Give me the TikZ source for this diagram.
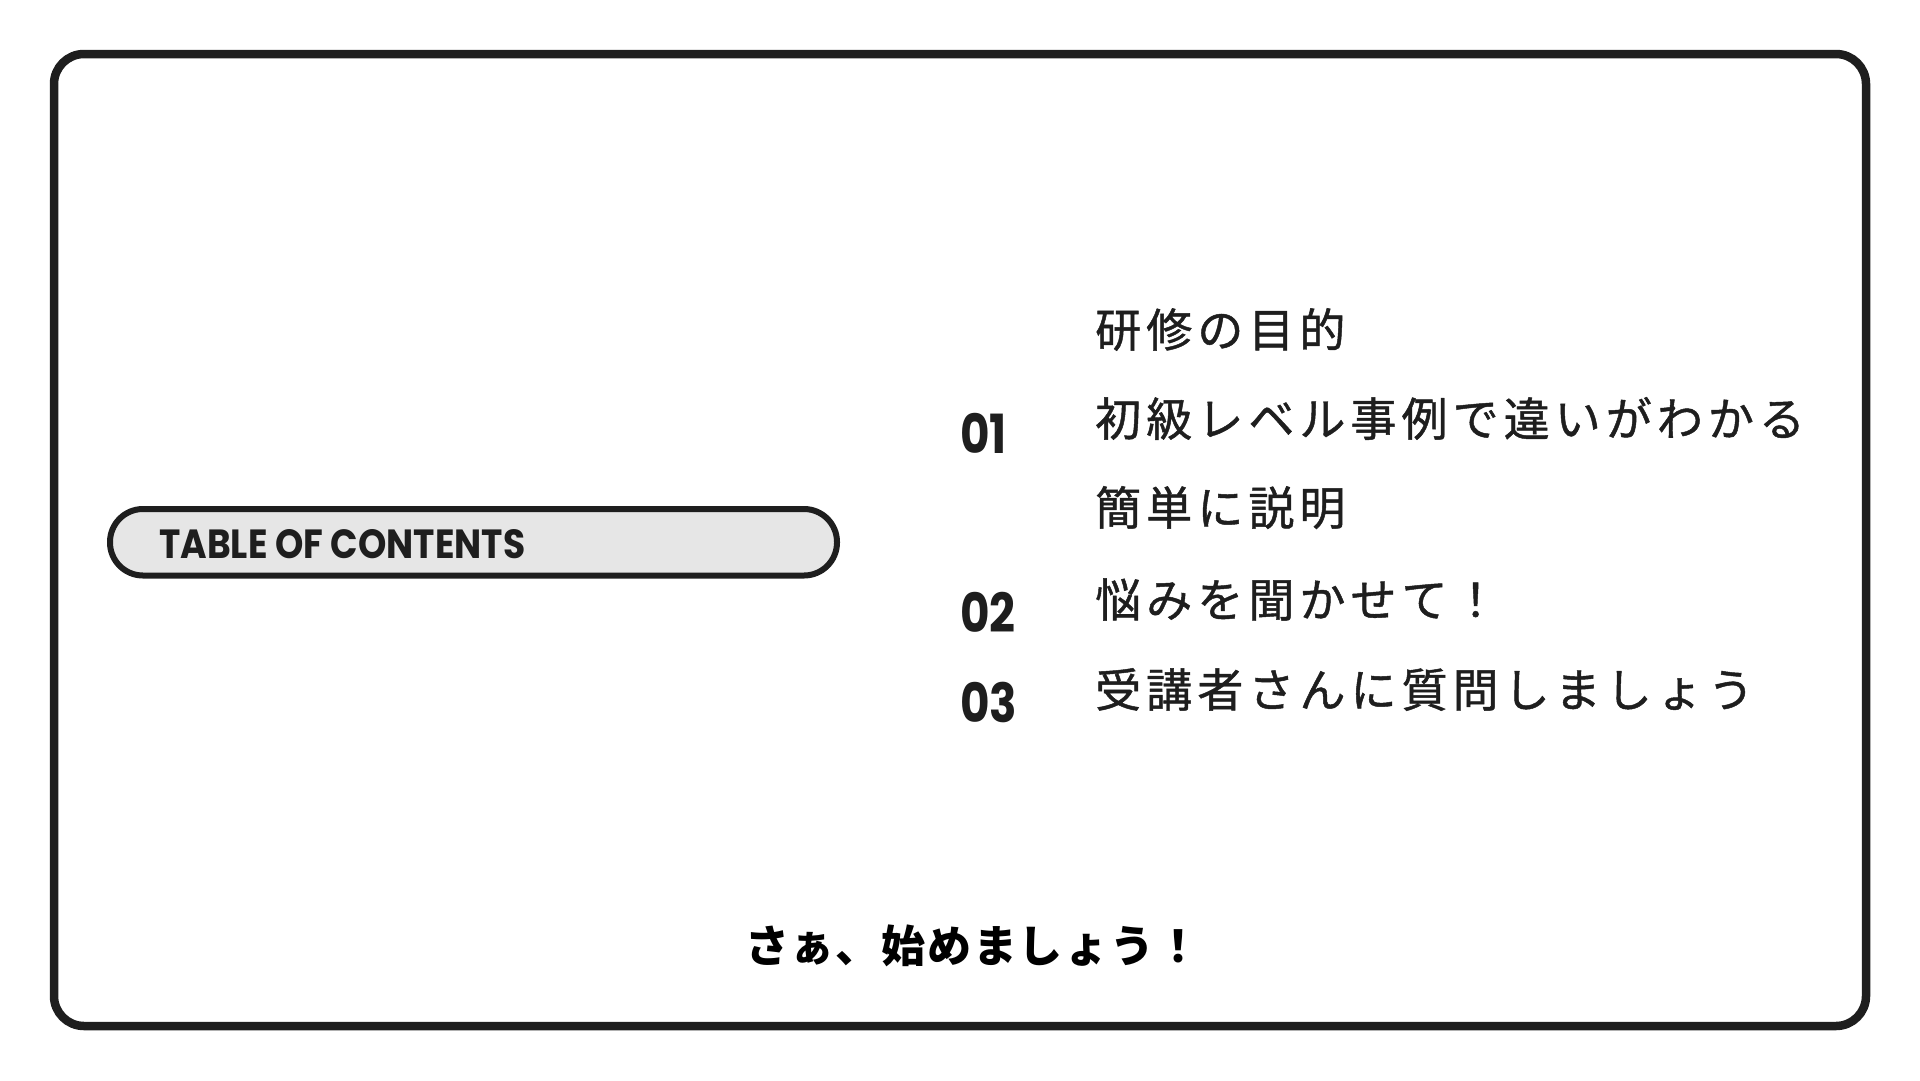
\documentclass[tikz,border=0pt]{standalone}
\usepackage{fontspec}
\usepackage{graphicx}
\setmainfont{Poppins}
\newfontfamily\jp{Noto Sans CJK JP}[LetterSpace=4]
\newfontfamily\jpls{Noto Sans CJK JP}[LetterSpace=11,FakeBold=1]
\definecolor{ink}{HTML}{1E1E1E}
\definecolor{pillfill}{HTML}{E6E6E6}
\tikzset{
  framebox/.style={draw=ink, line width=8.5pt, rounded corners=30pt, minimum width=1812pt, minimum height=972pt, inner sep=0pt, outer sep=0pt},
  pillbox/.style={draw=ink, fill=pillfill, line width=6pt, rounded corners=33pt, minimum width=727pt, minimum height=66.5pt, inner sep=0pt, outer sep=0pt, anchor=north west},
  item/.style={anchor=base west, inner sep=0pt, text=ink, font=\jpls\fontsize{46pt}{50pt}\selectfont},
  num/.style={anchor=base west, inner sep=0pt, text=ink},
  footer/.style={anchor=base west, inner sep=0pt, text=black, font=\jp\bfseries\fontsize{44pt}{48pt}\selectfont}
}
\newcommand{\numtxt}[1]{\scalebox{0.84}[1]{\fontsize{54pt}{60pt}\selectfont\bfseries #1}}
\begin{document}
\begin{tikzpicture}[x=1pt,y=-1pt]
\useasboundingbox (0,0) rectangle (1920,1080);
\node[framebox] (frame) at (960,540) {};
\node[pillbox] (pill) at (110,509) {};
\node[anchor=base west, inner sep=0pt, text=ink] (toc) at (159,558) {\resizebox{366pt}{29pt}{\bfseries TABLE OF CONTENTS}};
\node[item] (l1) at (1095,347) {研修の目的};
\node[item] (l2) at (1095,436) {初級レベル事例で違いがわかる};
\node[item] (l3) at (1095,525) {簡単に説明};
\node[item] (l4) at (1095,617) {悩みを聞かせて！};
\node[item] (l5) at (1095,707) {受講者さんに質問しましょう};
\node[num] (n1) at (960,453) {\numtxt{01}};
\node[num] (n2) at (960,632) {\numtxt{02}};
\node[num] (n3) at (960,722) {\numtxt{03}};
\node[footer] (go) at (745,962) {さぁ、始めましょう！};
\end{tikzpicture}
\end{document}
